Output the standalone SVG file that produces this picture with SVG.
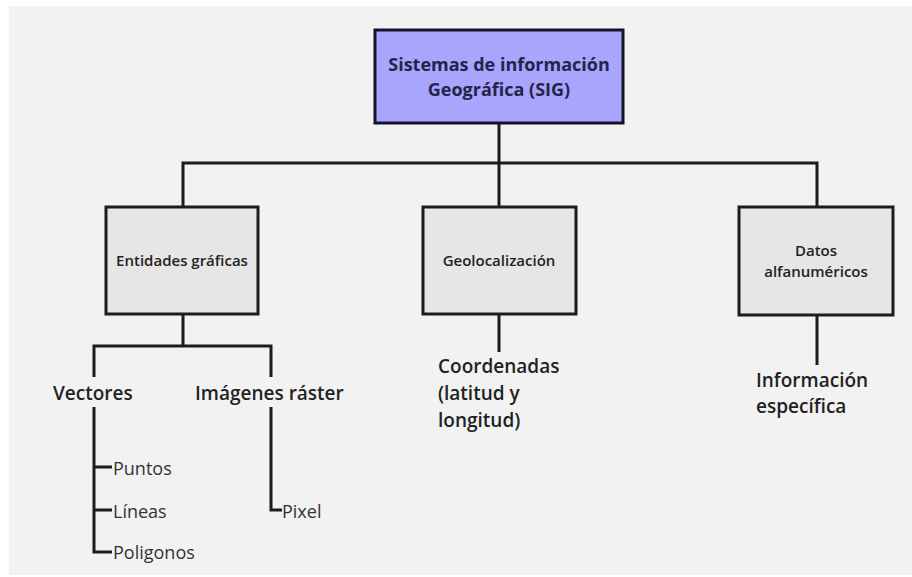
<svg xmlns="http://www.w3.org/2000/svg" width="912" height="577" viewBox="0 0 912 577">
<style>
.bg{fill:#f2f2f2}
.box{fill:#e6e6e6;stroke:#1c1c1c;stroke-width:3}
.root{fill:#a9a5fc;stroke:#15152a;stroke-width:3}
.ln{fill:none;stroke:#1c1c1c;stroke-width:3}
text{font-family:"Open Sans","Noto Sans","Liberation Sans",sans-serif;fill:#222}
.t1{font-size:18px;font-weight:700;fill:#24244a;text-anchor:middle}
.t2{font-size:15px;font-weight:600;text-anchor:middle}
.t3{font-size:19px;font-weight:600}
.t4{font-size:18px;font-weight:400;fill:#333}
</style>
<rect x="0" y="0" width="912" height="577" fill="#ffffff"/>
<rect class="bg" x="9" y="6" width="903" height="569"/>
<g id="connectors">
<path class="ln" d="M499,123 V163 M183,207 V163 H817 V207 M499,163 V207"/>
<path class="ln" d="M183,314 V346 M94,377 V346 H271 V377"/>
<path class="ln" d="M94,407 V552 H112 M94,467 H112 M94,510 H112"/>
<path class="ln" d="M271,407 V510 H282"/>
<path class="ln" d="M499,314 V352"/>
<path class="ln" d="M817,315 V365"/>
</g>
<g id="root">
<rect class="root" x="375" y="30" width="248" height="93"/>
<text class="t1" x="499" y="71">Sistemas de información</text>
<text class="t1" x="499" y="96">Geográfica (SIG)</text>
</g>
<g id="entidades">
<rect class="box" x="106" y="207" width="152" height="107"/>
<text class="t2" x="182" y="266">Entidades gráficas</text>
</g>
<g id="geolocalizacion">
<rect class="box" x="423" y="207" width="153" height="107"/>
<text class="t2" x="499" y="266">Geolocalización</text>
</g>
<g id="datos">
<rect class="box" x="739" y="207" width="154" height="108"/>
<text class="t2" x="816" y="256">Datos</text>
<text class="t2" x="816" y="277">alfanuméricos</text>
</g>
<g id="vectores"><text class="t3" x="53" y="400">Vectores</text></g>
<g id="raster"><text class="t3" x="195" y="400">Imágenes ráster</text></g>
<g id="puntos"><text class="t4" x="113" y="475">Puntos</text></g>
<g id="lineas"><text class="t4" x="113" y="518">Líneas</text></g>
<g id="poligonos"><text class="t4" x="113" y="559">Poligonos</text></g>
<g id="pixel"><text class="t4" x="282" y="518">Pixel</text></g>
<g id="coordenadas">
<text class="t3" x="438" y="373">Coordenadas</text>
<text class="t3" x="438" y="400">(latitud y</text>
<text class="t3" x="438" y="427">longitud)</text>
</g>
<g id="informacion">
<text class="t3" x="756" y="387">Información</text>
<text class="t3" x="756" y="413">específica</text>
</g>
</svg>
